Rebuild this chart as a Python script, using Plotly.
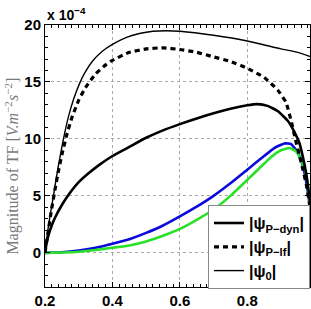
import plotly.graph_objects as go

# ---- data (values in units of 1e-4) ----
x_dyn = [0.2, 0.205, 0.21, 0.22, 0.23, 0.25, 0.27, 0.3, 0.33, 0.36, 0.4, 0.45, 0.5, 0.55, 0.6,
         0.65, 0.7, 0.75, 0.8, 0.83, 0.86, 0.89, 0.92, 0.94, 0.955, 0.965, 0.975, 0.985, 0.993, 1.0]
y_dyn = [0, 0.9, 1.5, 2.4, 3.1, 4.2, 5.1, 6.2, 7.0, 7.7, 8.5, 9.3, 10.1, 10.75, 11.3,
         11.8, 12.25, 12.65, 12.95, 13.05, 12.9, 12.45, 11.6, 10.6, 9.6, 8.4, 6.9, 4.7, 2.5, 0]

x_lf = [0.2, 0.21, 0.22, 0.23, 0.24, 0.25, 0.264, 0.28, 0.3, 0.32, 0.35, 0.38, 0.4, 0.45, 0.5,
        0.55, 0.6, 0.65, 0.7, 0.75, 0.8, 0.85, 0.89, 0.915, 0.93, 0.944, 0.955, 0.965, 0.975,
        0.985, 0.993, 1.0]
y_lf = [0, 2.0, 3.9, 5.6, 7.2, 8.6, 10.3, 11.9, 13.4, 14.5, 15.7, 16.5, 16.9, 17.6, 17.9,
        18.0, 17.85, 17.6, 17.2, 16.8, 16.2, 15.4, 14.3, 13.2, 11.6, 9.8, 8.5, 7.3, 6.0,
        4.2, 2.4, 0]

x_0 = [0.2, 0.205, 0.21, 0.217, 0.224, 0.232, 0.24, 0.254, 0.27, 0.285, 0.303, 0.32, 0.34,
       0.37, 0.4, 0.44, 0.48, 0.52, 0.56, 0.6, 0.7, 0.8, 0.9, 0.95, 1.0]
y_0 = [0, 1.2, 2.3, 3.6, 4.8, 6.3, 7.7, 9.9, 12.0, 13.5, 14.9, 15.9, 16.8,
       17.7, 18.3, 18.9, 19.25, 19.45, 19.5, 19.45, 19.1, 18.6, 17.9, 17.6, 17.1]

x_blue = [0.2, 0.25, 0.3, 0.35, 0.4, 0.45, 0.5, 0.55, 0.6, 0.65, 0.7, 0.75, 0.8, 0.85,
          0.88, 0.91, 0.93, 0.95, 0.965, 0.975, 0.985, 0.993, 1.0]
y_blue = [0, 0.05, 0.2, 0.45, 0.8, 1.2, 1.75, 2.4, 3.2, 4.05, 5.0, 6.1, 7.3, 8.5,
          9.2, 9.6, 9.55, 8.8, 7.6, 6.2, 4.2, 2.2, 0]

x_green = [0.2, 0.25, 0.3, 0.35, 0.4, 0.45, 0.5, 0.55, 0.6, 0.65, 0.7, 0.75, 0.8, 0.835,
           0.87, 0.9, 0.925, 0.945, 0.96, 0.974, 0.981, 0.99, 1.0]
y_green = [0, 0.03, 0.1, 0.25, 0.45, 0.65, 1.0, 1.5, 2.1, 2.9, 3.8, 5.0, 6.4, 7.4,
           8.4, 9.0, 9.2, 8.9, 8.1, 7.0, 5.5, 3.2, 0]

x_ticks = [0.2, 0.4, 0.6, 0.8]
y_ticks = [0, 5, 10, 15, 20]

line_shape = dict(shape="spline", smoothing=0.4)

fig = go.Figure()
fig.add_trace(go.Scatter(x=x_blue, y=y_blue, mode="lines", showlegend=False,
                         line=dict(color="rgb(10,10,220)", width=2.6, **line_shape)))
fig.add_trace(go.Scatter(x=x_green, y=y_green, mode="lines", showlegend=False,
                         line=dict(color="rgb(40,225,40)", width=2.6, **line_shape)))
fig.add_trace(go.Scatter(x=x_dyn, y=y_dyn, mode="lines", name="|ψ<sub>P−dyn</sub>|",
                         line=dict(color="black", width=2.6, **line_shape)))
fig.add_trace(go.Scatter(x=x_lf, y=y_lf, mode="lines", name="|ψ<sub>P−lf</sub>|",
                         line=dict(color="black", width=3.2, dash="5px,4px", **line_shape)))
fig.add_trace(go.Scatter(x=x_0, y=y_0, mode="lines", name="|ψ<sub>0</sub>|",
                         line=dict(color="black", width=1.4, **line_shape)))

tickfont = dict(family="Liberation Sans, Arial", size=15, color="black", weight="bold")
grid = dict(showgrid=True, gridcolor="#a8a8a8", griddash="dot", gridwidth=1)

fig.update_xaxes(range=[0.2, 0.986], tickvals=x_ticks, ticktext=[str(v) for v in x_ticks],
                 ticks="inside", ticklen=5, tickcolor="black", showline=True, linecolor="black",
                 linewidth=1, mirror="ticks", tickfont=tickfont, zeroline=False,
                 minor=dict(dtick=0.02, tick0=0.2, ticks="inside", ticklen=3, tickcolor="black", showgrid=False),
                 **grid)
fig.update_yaxes(range=[-3, 20], tickvals=y_ticks, ticktext=[str(v) for v in y_ticks],
                 ticks="inside", ticklen=5, tickcolor="black", showline=True, linecolor="black",
                 linewidth=1, mirror="ticks", tickfont=tickfont, zeroline=False,
                 minor=dict(dtick=1, tick0=0, ticks="inside", ticklen=3, tickcolor="black", showgrid=False),
                 **grid)

fig.add_annotation(xref="paper", yref="paper", x=-0.124, y=0.46, xanchor="center", yanchor="middle",
                   textangle=-90, showarrow=False,
                   text="Magnitude of TF [<i>V.m</i><sup>−2</sup><i>s</i><sup>−2</sup>]",
                   font=dict(family="Liberation Serif, Times New Roman", size=16, color="#7a7a7a"))
fig.add_annotation(xref="paper", yref="paper", x=0.0, y=1.0, xanchor="left", yanchor="bottom",
                   showarrow=False, text="x 10<sup>−4</sup>",
                   font=dict(family="Liberation Sans, Arial", size=14, color="black", weight="bold"))

fig.update_layout(
    width=311, height=309,
    margin=dict(l=45, r=0, t=25, b=19, pad=0),
    plot_bgcolor="white", paper_bgcolor="white",
    legend=dict(x=1.0, y=-0.008, xanchor="right", yanchor="bottom",
                bgcolor="white", bordercolor="#888888", borderwidth=1,
                font=dict(family="Liberation Sans, Arial", size=16, color="black", weight="bold"),
                itemwidth=30, tracegroupgap=0),
)

fig.write_html("out.html")
